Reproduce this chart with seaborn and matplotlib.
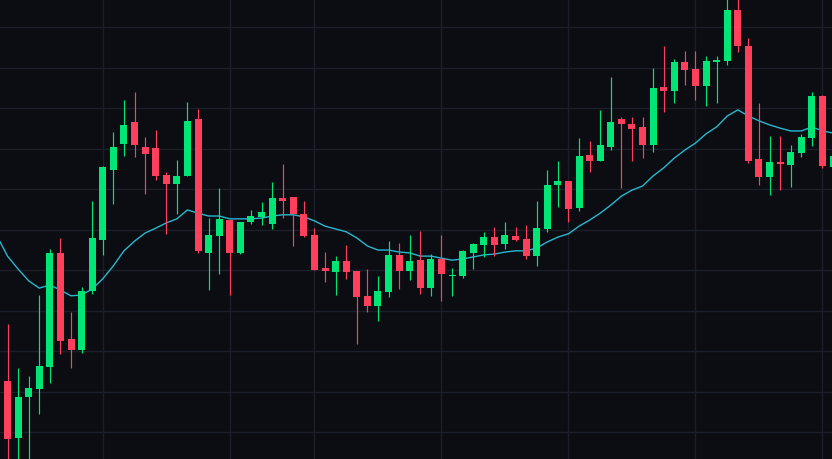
import numpy as np
import pandas as pd
import matplotlib
matplotlib.use("Agg")
import matplotlib.pyplot as plt
import seaborn as sns

# ---- data ----
idx = list(range(-1, 79))
opens = [128.5, 112.6, 98.6, 108.8, 110.8, 116.2, 144.3, 123.0, 120.4, 134.9,
         147.6, 164.8, 171.3, 176.6, 170.4, 170.2, 163.5, 161.4, 163.3, 177.4,
         144.3, 148.5, 152.4, 144.3, 151.8, 153.2, 151.4, 157.9, 158.1, 153.9,
         148.7, 140.6, 139.6, 142.3, 139.8, 133.7, 131.2, 134.6, 143.8, 139.8,
         142.5, 135.6, 142.8, 138.6, 138.6, 144.3, 146.2, 148.2, 146.5, 148.5,
         147.7, 143.5, 150.2, 161.1, 162.0, 155.4, 168.5, 167.0, 170.4, 177.4,
         176.1, 175.4, 170.9, 185.3, 184.3, 191.4, 189.7, 185.5, 191.4, 191.7,
         204.3, 195.4, 167.5, 163.0, 166.7, 166.0, 169.0, 172.7, 183.0, 165.5]
highs = [132.9, 126.7, 115.9, 113.9, 133.9, 145.3, 148.0, 129.7, 135.9, 157.2,
         165.8, 174.1, 182.0, 184.0, 172.9, 174.6, 164.2, 167.2, 181.6, 179.8,
         152.9, 160.3, 152.4, 151.9, 154.9, 156.9, 161.8, 166.2, 158.1, 157.1,
         150.4, 144.5, 143.5, 146.2, 139.8, 140.3, 138.6, 147.2, 146.7, 148.7,
         149.7, 144.0, 148.7, 140.6, 145.0, 146.7, 149.5, 150.7, 151.9, 150.7,
         151.2, 157.1, 164.8, 167.0, 162.0, 172.7, 171.9, 179.6, 187.7, 177.9,
         177.9, 177.9, 189.9, 195.4, 192.2, 194.1, 194.1, 192.9, 192.9, 208.5,
         208.0, 197.4, 181.3, 173.2, 173.2, 170.9, 173.7, 184.0, 183.3, 169.9]
lows = [109.5, 90.9, 91.4, 90.4, 104.5, 112.2, 119.4, 116.0, 119.7, 134.1,
        143.8, 156.4, 168.3, 168.0, 158.9, 162.4, 149.0, 153.9, 163.3, 144.3,
        135.2, 139.2, 134.0, 144.0, 151.4, 151.2, 150.2, 152.9, 146.0, 148.2,
        140.1, 137.1, 133.9, 137.9, 121.8, 129.7, 127.5, 133.4, 135.4, 137.6,
        134.1, 133.7, 132.4, 133.7, 138.1, 140.3, 143.3, 143.5, 145.3, 147.2,
        142.8, 141.1, 149.5, 155.6, 151.9, 154.6, 164.3, 167.0, 169.7, 160.3,
        167.0, 167.7, 169.2, 179.1, 181.3, 185.8, 182.0, 180.6, 181.3, 190.7,
        193.9, 166.5, 161.1, 158.6, 159.8, 160.6, 168.0, 170.7, 165.3, 163.8]
closes = [112.6, 98.3, 108.8, 111.0, 116.4, 144.3, 122.6, 120.4, 134.9, 148.0,
          165.5, 170.4, 175.9, 171.0, 168.8, 163.4, 161.4, 163.3, 176.9, 144.8,
          148.7, 152.7, 144.3, 151.9, 153.4, 154.4, 157.9, 157.1, 153.9, 148.5,
          140.1, 139.8, 142.3, 139.6, 133.4, 131.2, 134.9, 143.8, 139.8, 142.3,
          135.6, 142.8, 139.1, 138.8, 144.8, 146.5, 148.2, 146.2, 148.7, 147.5,
          143.5, 150.4, 161.1, 162.0, 155.1, 168.2, 167.0, 170.9, 176.6, 176.1,
          174.9, 170.9, 185.0, 184.3, 191.4, 189.5, 185.5, 191.7, 191.9, 204.3,
          195.4, 167.0, 163.0, 166.7, 166.2, 169.2, 172.9, 183.0, 165.8, 168.2]
ma = [148.5, 143.5, 140.3, 137.4, 135.6, 136.4, 135.1, 133.7, 133.9, 135.4,
      137.9, 141.1, 144.8, 147.2, 149.2, 150.4, 151.7, 152.7, 154.9, 154.1,
      153.4, 153.4, 152.7, 152.7, 152.7, 152.9, 153.4, 153.7, 153.7, 153.2,
      152.2, 150.9, 150.2, 149.5, 148.0, 146.0, 145.0, 145.0, 144.5, 144.3,
      143.5, 143.5, 143.0, 142.5, 142.8, 143.3, 143.8, 144.0, 144.5, 144.8,
      144.8, 145.5, 147.0, 148.2, 149.0, 150.9, 152.4, 154.1, 156.1, 158.3,
      159.8, 160.8, 163.3, 165.3, 167.7, 169.7, 171.4, 173.7, 175.4, 178.1,
      179.6, 178.1, 176.9, 175.9, 175.1, 174.4, 174.4, 175.4, 174.4, 173.9]
grid_x = [9, 21, 29, 41, 53, 65, 77]
grid_y = list(range(100, 201, 10))

df = pd.DataFrame({"i": idx, "open": opens, "high": highs, "low": lows,
                   "close": closes, "ma": ma})

BG = "#0b0d12"
GRID = "#1b1f29"
UP = "#00e676"
DOWN = "#ff3f5b"
MA_COL = "#26b8cf"

sns.set_theme(style="dark")
fig = plt.figure(figsize=(8.32, 4.6), dpi=100)
fig.patch.set_facecolor(BG)
ax = fig.add_axes([0, 0, 1, 1])
ax.set_facecolor(BG)

colors = [UP if c >= o else DOWN for o, c in zip(df["open"], df["close"])]
bottoms = np.minimum(df["open"], df["close"])
heights = np.maximum(np.abs(df["close"] - df["open"]), 0.3)

ax.vlines(df["i"], df["low"], df["high"], colors=colors, linewidth=0.85, zorder=3)
ax.bar(df["i"], heights, bottom=bottoms, width=0.66, color=colors,
       linewidth=0, zorder=4)
sns.lineplot(data=df, x="i", y="ma", ax=ax, color=MA_COL, linewidth=1.0,
             zorder=2, legend=False)

ax.set_xlim(-0.709, 77.9)
ax.set_ylim(93.41, 206.98)
ax.set_xticks(grid_x)
ax.set_yticks(grid_y)
ax.grid(True, color=GRID, linewidth=1.0, zorder=0)
ax.set_axisbelow(True)
ax.tick_params(length=0, labelbottom=False, labelleft=False)
ax.set_xlabel("")
ax.set_ylabel("")
for s in ax.spines.values():
    s.set_visible(False)

fig.savefig("out.png", dpi=100, facecolor=BG)
